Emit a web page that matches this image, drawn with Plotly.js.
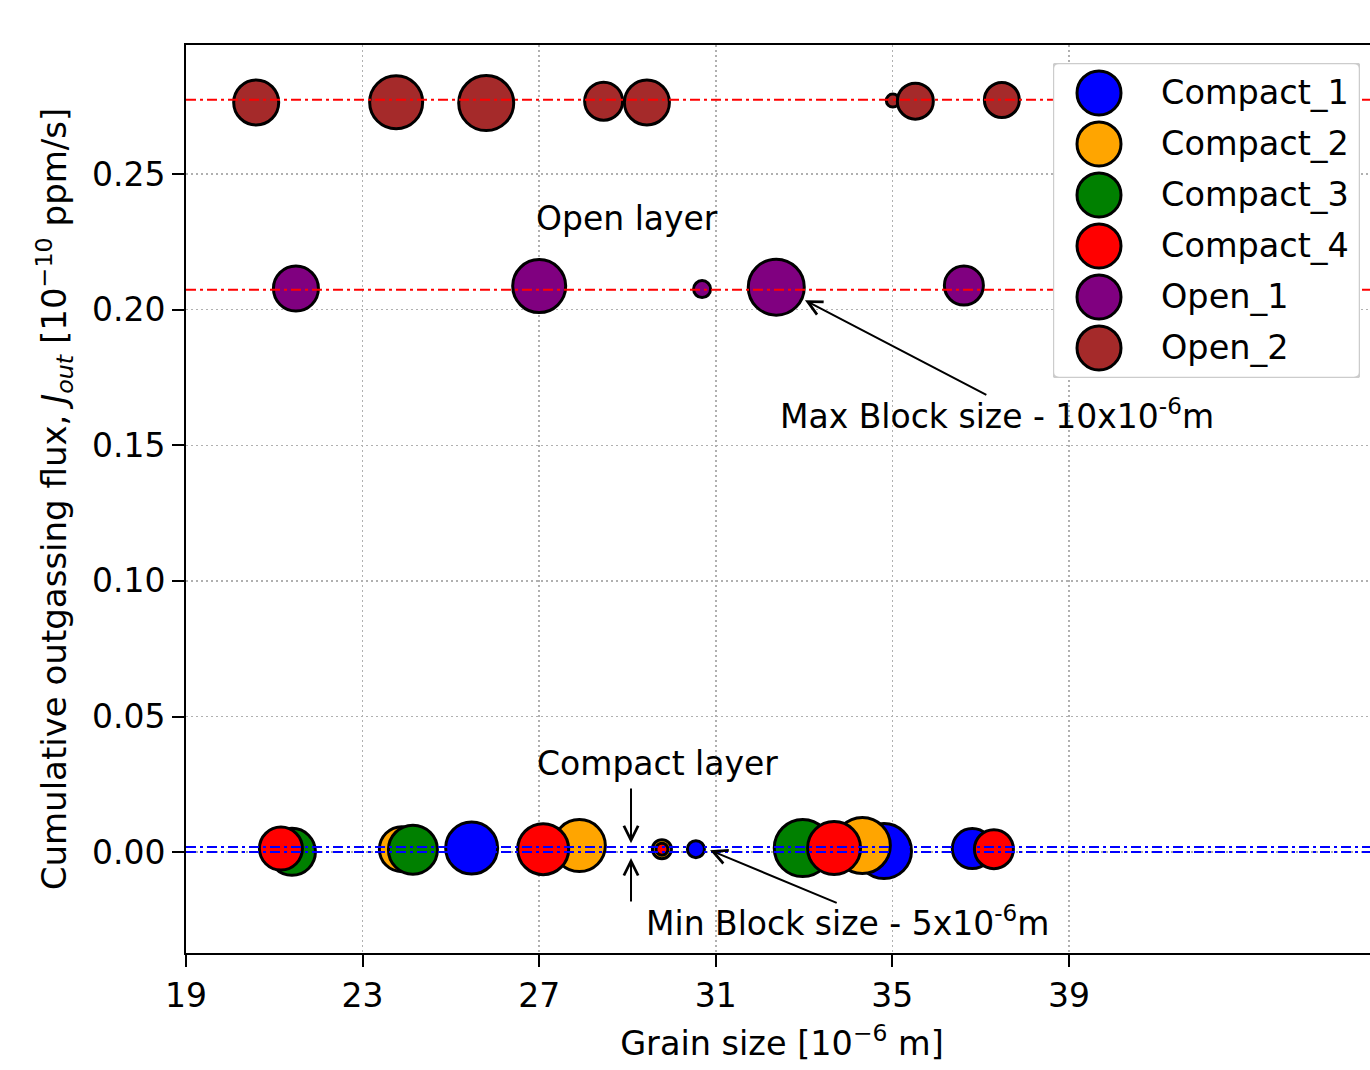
<!DOCTYPE html>
<html>
<head>
<meta charset="utf-8">
<script src="https://cdn.plot.ly/plotly-3.0.1.min.js"></script>
<style>
html, body { margin: 0; padding: 0; overflow: hidden; background: #ffffff; width: 1370px; height: 1070px; }
#chart { width: 1390px; height: 1070px; }
</style>
</head>
<body>
<div id="chart"></div>
<script>
// ---- Data ----
const seriesNames  = ['Compact_1', 'Compact_2', 'Compact_3', 'Compact_4', 'Open_1', 'Open_2'];
const seriesColors = ['#0000ff', '#ffa500', '#008000', '#ff0000', '#800080', '#a52a2a'];

// Grain size [1e-6 m], cumulative outgassing flux [1e-10 ppm/s], bubble diameter (block size)
const compact1X    = [25.47, 30.55, 34.81, 36.81];
const compact1Y    = [0.0015, 0.0011, 0.0004, 0.0013];
const compact1Size = [52, 17, 55, 40];

const compact2X    = [23.89, 27.91, 29.78, 34.32];
const compact2Y    = [0.0011, 0.0024, 0.0011, 0.0024];
const compact2Size = [45, 52, 19, 56];

const compact3X    = [21.40, 24.14, 32.97];
const compact3Y    = [0.0001, 0.0009, 0.0015];
const compact3Size = [47, 49, 57];

const compact4X    = [21.15, 27.09, 29.78, 33.68, 37.30];
const compact4Y    = [0.0013, 0.0011, 0.0011, 0.0015, 0.0011];
const compact4Size = [43, 51, 12, 53, 39];

const open1X    = [21.49, 27.00, 30.69, 32.37, 36.62];
const open1Y    = [0.2078, 0.2087, 0.2076, 0.2083, 0.2089];
const open1Size = [45, 53, 17, 56, 39];

const open2X    = [20.59, 23.76, 25.80, 28.46, 29.44, 35.01, 35.52, 37.48];
const open2Y    = [0.2764, 0.2765, 0.2762, 0.2769, 0.2764, 0.2771, 0.2769, 0.2773];
const open2Size = [45, 53, 55, 38, 45, 13, 36, 35];

// Reference levels (dash-dot horizontal lines)
const openLevels    = [0.2774, 0.2074];
const compactLevels = [0.0019, 0.0000];

// Axes
const xRange     = [19, 46];
const yRange     = [-0.0372, 0.2976];
const xTickVals  = [19, 23, 27, 31, 35, 39];
const xTickText  = ['19', '23', '27', '31', '35', '39'];
const yTickVals  = [0.00, 0.05, 0.10, 0.15, 0.20, 0.25];
const yTickText  = ['0.00', '0.05', '0.10', '0.15', '0.20', '0.25'];

// Annotation texts
const openLayerLabel    = 'Open layer';
const compactLayerLabel = 'Compact layer';
const maxBlockLabel     = 'Max Block size - 10x10<sup>-6</sup>m';
const minBlockLabel     = 'Min Block size - 5x10<sup>-6</sup>m';

// Annotation arrows (tail -> head, in data units)
const maxArrowX = [37.14, 33.02];
const maxArrowY = [0.1685, 0.2035];
const minArrowX = [33.75, 30.87];
const minArrowY = [-0.0188, 0.0007];
const topArrowX = [29.08, 29.08];
const topArrowY = [0.0236, 0.0033];
const botArrowX = [29.08, 29.08];
const botArrowY = [-0.0184, -0.0022];

// ---- Build traces ----
const FONT = 'DejaVu Sans';
const seriesX    = [compact1X, compact2X, compact3X, compact4X, open1X, open2X];
const seriesY    = [compact1Y, compact2Y, compact3Y, compact4Y, open1Y, open2Y];
const seriesSize = [compact1Size, compact2Size, compact3Size, compact4Size, open1Size, open2Size];

const traces = [];
seriesNames.forEach(function (name, i) {
  traces.push({
    type: 'scatter', mode: 'markers', name: name,
    x: seriesX[i], y: seriesY[i],
    marker: { color: seriesColors[i], size: seriesSize[i], line: { color: '#000000', width: 3 }, opacity: 1 },
    showlegend: false, hoverinfo: 'skip', cliponaxis: false
  });
});

const DASHDOT = '10px,4px,3px,4px';
openLevels.forEach(function (lv) {
  traces.push({ type: 'scatter', mode: 'lines', x: xRange, y: [lv, lv],
    line: { color: '#ff0000', width: 2, dash: DASHDOT }, showlegend: false, hoverinfo: 'skip' });
});
compactLevels.forEach(function (lv) {
  traces.push({ type: 'scatter', mode: 'lines', x: xRange, y: [lv, lv],
    line: { color: '#0000ff', width: 2, dash: DASHDOT }, showlegend: false, hoverinfo: 'skip' });
});

// Custom legend drawn in its own small subplot (x2/y2) so the symbols can be large
const legendAnnotations = [];
seriesNames.forEach(function (name, i) {
  traces.push({
    type: 'scatter', mode: 'markers', x: [0.15], y: [i], xaxis: 'x2', yaxis: 'y2',
    marker: { color: seriesColors[i], size: 44, line: { color: '#000000', width: 3 } },
    showlegend: false, hoverinfo: 'skip', cliponaxis: false
  });
  legendAnnotations.push({
    xref: 'x2', yref: 'y2', x: 0.345, y: i, text: name, showarrow: false,
    xanchor: 'left', yanchor: 'middle', font: { family: FONT, size: 33.5, color: '#000000' }
  });
});

// Arrow-only annotations: tail and head both given in data units
function arrowAnn(ax, ay) {
  return {
    xref: 'x', yref: 'y', axref: 'x', ayref: 'y',
    x: ax[1], y: ay[1], ax: ax[0], ay: ay[0],
    text: '', showarrow: true, arrowhead: 5, arrowsize: 1.4, arrowwidth: 2,
    arrowcolor: '#000000', standoff: 0, startstandoff: 0, borderpad: 0, font: { size: 1 }
  };
}

const annFont = { family: FONT, size: 33, color: '#000000' };
const annotations = [
  { xref: 'x', yref: 'y', x: 29.0, y: 0.2335, text: openLayerLabel, showarrow: false,
    xanchor: 'center', yanchor: 'middle', font: annFont },
  { xref: 'x', yref: 'y', x: 29.68, y: 0.0328, text: compactLayerLabel, showarrow: false,
    xanchor: 'center', yanchor: 'middle', font: annFont },
  { xref: 'x', yref: 'y', x: 32.40, y: 0.1614, text: maxBlockLabel, showarrow: false,
    xanchor: 'left', yanchor: 'middle', font: annFont },
  { xref: 'x', yref: 'y', x: 29.38, y: -0.0255, text: minBlockLabel, showarrow: false,
    xanchor: 'left', yanchor: 'middle', font: annFont },
  arrowAnn(maxArrowX, maxArrowY),
  arrowAnn(minArrowX, minArrowY),
  arrowAnn(topArrowX, topArrowY),
  arrowAnn(botArrowX, botArrowY)
].concat(legendAnnotations);

const gridStyle = { showgrid: true, gridcolor: '#b0b0b0', gridwidth: 1.5, griddash: '2px,3px' };

// Rounded legend frame in legend-subplot units
const rx = 0.02, ry = 0.11, L = 0, R = 1, T = -0.588, B = 5.588;
const framePath = 'M' + (L + rx) + ',' + T + ' L' + (R - rx) + ',' + T + ' Q' + R + ',' + T + ' ' + R + ',' + (T + ry) +
  ' L' + R + ',' + (B - ry) + ' Q' + R + ',' + B + ' ' + (R - rx) + ',' + B +
  ' L' + (L + rx) + ',' + B + ' Q' + L + ',' + B + ' ' + L + ',' + (B - ry) +
  ' L' + L + ',' + (T + ry) + ' Q' + L + ',' + T + ' ' + (L + rx) + ',' + T + ' Z';

const layout = {
  width: 1390, height: 1070, autosize: false,
  margin: { l: 186, r: 12, t: 45, b: 117, pad: 0 },
  paper_bgcolor: '#ffffff', plot_bgcolor: '#ffffff',
  showlegend: false, hovermode: false,
  font: { family: FONT, size: 33, color: '#000000' },
  xaxis: Object.assign({
    range: xRange, tickmode: 'array', tickvals: xTickVals, ticktext: xTickText,
    ticks: 'outside', ticklen: 12, tickwidth: 2, tickcolor: '#000000',
    showline: true, linecolor: '#000000', linewidth: 2, mirror: true, zeroline: false,
    tickfont: { family: FONT, size: 33, color: '#000000' },
    title: { text: 'Grain size [10<sup>−6</sup> m]', font: { family: FONT, size: 33.5, color: '#000000' }, standoff: 18 },
    automargin: false, fixedrange: true
  }, gridStyle),
  yaxis: Object.assign({
    range: yRange, tickmode: 'array', tickvals: yTickVals, ticktext: yTickText,
    ticks: 'outside', ticklen: 12, tickwidth: 2, tickcolor: '#000000',
    showline: true, linecolor: '#000000', linewidth: 2, mirror: true, zeroline: false,
    tickfont: { family: FONT, size: 33, color: '#000000' },
    title: { text: 'Cumulative outgassing flux, <i>J</i><sub><i>out</i></sub> [10<sup>−10</sup> ppm/s]',
             font: { family: FONT, size: 34, color: '#000000' }, standoff: 15 },
    automargin: false, fixedrange: true
  }, gridStyle),
  xaxis2: { domain: [0.7273, 0.9849], range: [0, 1], visible: false, fixedrange: true },
  yaxis2: { domain: [0.6333, 0.9802], range: [5.588, -0.588], visible: false, fixedrange: true },
  shapes: [
    { type: 'path', xref: 'x2', yref: 'y2', path: framePath, layer: 'below',
      fillcolor: 'rgba(255,255,255,0.8)', line: { color: '#cccccc', width: 2.5 } }
  ],
  annotations: annotations
};

Plotly.newPlot('chart', traces, layout, { staticPlot: true, displayModeBar: false });
</script>
</body>
</html>
